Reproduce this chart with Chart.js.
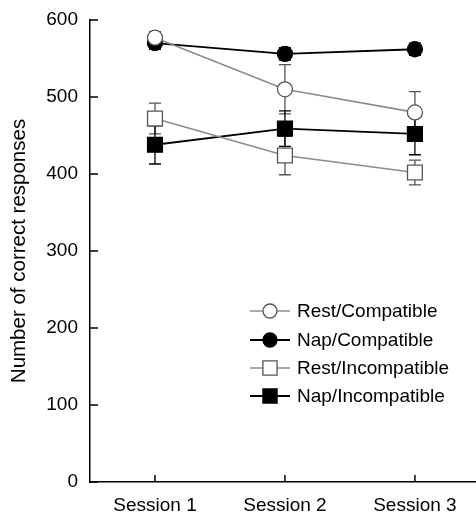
<!DOCTYPE html>
<html>
<head>
<meta charset="utf-8">
<script src="https://cdn.jsdelivr.net/npm/chart.js@4.4.1/dist/chart.umd.min.js"></script>
<style>
  html, body { margin: 0; padding: 0; background: #fff; overflow: hidden; }
  #wrap { width: 476px; height: 517px; }
</style>
</head>
<body>
<div id="wrap"><canvas id="myChart" width="476" height="517"></canvas></div>
<script>
const sessions = ['Session 1', 'Session 2', 'Session 3'];
const yTicks = [0, 100, 200, 300, 400, 500, 600];

const restCompatible = [577, 510, 480];
const restCompatibleErr = [8, 32, 27];
const napCompatible = [570, 556, 562];
const napCompatibleErr = [8, 8, 8];
const restIncompatible = [472, 424, 402];
const restIncompatibleErr = [20, 25, 16];
const napIncompatible = [438, 459, 452];
const napIncompatibleErr = [25, 23, 27];

const fontFam = "'Liberation Sans', Arial, sans-serif";

function pts(vals) {
    return vals.map((v, i) => ({ x: i + 1, y: v }));
}

function series(label, vals, errs, line, marker, fill, style, radius, width) {
    return {
        label: label,
        data: pts(vals),
        errors: errs,
        borderColor: line,
        borderWidth: width,
        pointBorderColor: marker,
        pointBackgroundColor: fill,
        pointBorderWidth: 1.3,
        pointStyle: style,
        pointRadius: radius,
        pointHoverRadius: radius,
        tension: 0,
        clip: false
    };
}

// error bars, drawn under the lines and markers
const errorBars = {
    id: 'errorBars',
    beforeDatasetsDraw(chart) {
        const { ctx, scales: { x, y } } = chart;
        ctx.save();
        chart.data.datasets.forEach(ds => {
            ctx.strokeStyle = ds.pointBorderColor;
            ctx.lineWidth = 1.3;
            ds.data.forEach((p, i) => {
                const e = ds.errors[i];
                const px = x.getPixelForValue(p.x);
                const top = y.getPixelForValue(p.y + e);
                const bot = y.getPixelForValue(p.y - e);
                ctx.beginPath();
                ctx.moveTo(px, top); ctx.lineTo(px, bot);
                ctx.moveTo(px - 6, top); ctx.lineTo(px + 6, top);
                ctx.moveTo(px - 6, bot); ctx.lineTo(px + 6, bot);
                ctx.stroke();
            });
        });
        ctx.restore();
    }
};

// inward tick marks
const innerTicks = {
    id: 'innerTicks',
    afterDraw(chart) {
        const { ctx, chartArea, scales: { x, y } } = chart;
        ctx.save();
        ctx.strokeStyle = '#000';
        ctx.lineWidth = 1.5;
        ctx.beginPath();
        yTicks.forEach(v => {
            const py = y.getPixelForValue(v);
            ctx.moveTo(chartArea.left, py); ctx.lineTo(chartArea.left + 8, py);
        });
        sessions.forEach((s, i) => {
            const px = x.getPixelForValue(i + 1);
            ctx.moveTo(px, chartArea.bottom); ctx.lineTo(px, chartArea.bottom - 7);
        });
        ctx.stroke();
        ctx.restore();
    }
};

// legend inside the plot
const innerLegend = {
    id: 'innerLegend',
    afterDraw(chart) {
        const { ctx } = chart;
        const rows = [311, 340, 368, 396];
        ctx.save();
        ctx.font = '19px ' + fontFam;
        ctx.textBaseline = 'middle';
        chart.data.datasets.forEach((ds, i) => {
            const ry = rows[i];
            ctx.strokeStyle = ds.borderColor;
            ctx.lineWidth = ds.borderWidth;
            ctx.beginPath();
            ctx.moveTo(250, ry); ctx.lineTo(290, ry);
            ctx.stroke();
            ctx.fillStyle = ds.pointBackgroundColor;
            ctx.strokeStyle = ds.pointBorderColor;
            ctx.lineWidth = ds.pointBorderWidth;
            Chart.helpers.drawPoint(ctx, { pointStyle: ds.pointStyle, radius: ds.pointRadius - 0.5, borderWidth: ds.pointBorderWidth }, 270, ry);
            ctx.fillStyle = '#000';
            ctx.fillText(ds.label, 297, ry + 1);
        });
        ctx.restore();
    }
};

const ctx = document.getElementById('myChart').getContext('2d');

var myChart = new Chart(ctx, {
    type: 'line',
    data: {
        datasets: [
            series('Rest/Compatible', restCompatible, restCompatibleErr, '#8c8c8c', '#555', '#fff', 'circle', 7.5, 1.6),
            series('Nap/Compatible', napCompatible, napCompatibleErr, '#000', '#000', '#000', 'circle', 7.5, 1.8),
            series('Rest/Incompatible', restIncompatible, restIncompatibleErr, '#8c8c8c', '#555', '#fff', 'rect', 10.5, 1.6),
            series('Nap/Incompatible', napIncompatible, napIncompatibleErr, '#000', '#000', '#000', 'rect', 10.5, 1.8)
        ]
    },
    options: {
        responsive: false,
        animation: false,
        layout: { autoPadding: false, padding: { top: 20, right: 0, left: 0, bottom: 0 } },
        plugins: {
            legend: { display: false },
            tooltip: { enabled: false }
        },
        scales: {
            x: {
                type: 'linear',
                min: 0.5,
                max: 3.47,
                afterBuildTicks: s => { s.ticks = sessions.map((_, i) => ({ value: i + 1 })); },
                afterFit: s => { s.height = 35; s.paddingLeft = 0; s.paddingRight = 0; },
                grid: { display: false, drawTicks: false },
                border: { display: true, color: '#000', width: 1.5 },
                ticks: {
                    autoSkip: false,
                    maxRotation: 0,
                    padding: 12,
                    color: '#000',
                    font: { family: fontFam, size: 19 },
                    callback: v => sessions[v - 1]
                }
            },
            y: {
                min: 0,
                max: 600,
                afterBuildTicks: s => { s.ticks = yTicks.map(v => ({ value: v })); },
                afterFit: s => { s.width = 90; s.paddingTop = 0; s.paddingBottom = 0; },
                grid: { display: false, drawTicks: false },
                border: { display: true, color: '#000', width: 1.5 },
                ticks: {
                    padding: 12,
                    color: '#000',
                    font: { family: fontFam, size: 19 }
                },
                title: {
                    display: true,
                    text: 'Number of correct responses',
                    color: '#000',
                    font: { family: fontFam, size: 20.5 },
                    padding: { top: 7, bottom: 0 }
                }
            }
        }
    },
    plugins: [errorBars, innerTicks, innerLegend]
});
</script>
</body>
</html>
